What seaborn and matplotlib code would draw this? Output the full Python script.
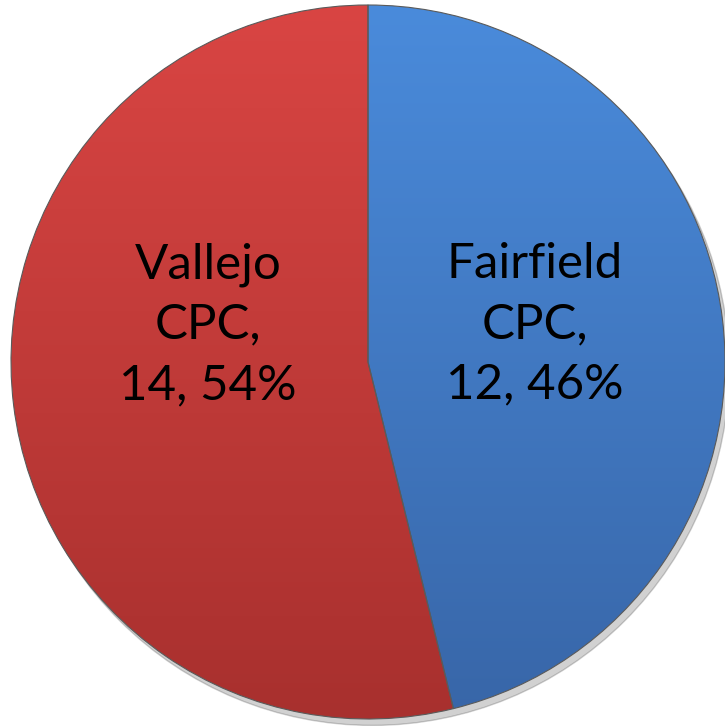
import matplotlib
matplotlib.use("Agg")
import matplotlib.pyplot as plt
import seaborn as sns
import numpy as np
from matplotlib.colors import LinearSegmentedColormap

sns.set_theme(style="white")
plt.rcParams['font.family'] = ['Lato', 'DejaVu Sans']

centers = ["Fairfield CPC", "Vallejo CPC"]
counts = [12, 14]
tops = ["#4a8bdb", "#d94543"]
bottoms = ["#3866a8", "#a8302e"]

fig = plt.figure(figsize=(7.25, 7.26), dpi=100)
ax = fig.add_axes([0, 0, 1, 1])
r_px = 357.0
cx, cy = 368.0, 362.0

# soft shadow
shadow = plt.Circle((0.012, -0.018), 1.0, color="#000000", alpha=0.18, zorder=0)
ax.add_patch(shadow)

wedges, _ = ax.pie(counts, startangle=90, counterclock=False, radius=1.0,
                   colors=tops, wedgeprops=dict(edgecolor="#5a5a5a", linewidth=0.8))

yy = np.linspace(0, 1, 256).reshape(-1, 1)
for w, t, b in zip(wedges, tops, bottoms):
    cmap = LinearSegmentedColormap.from_list("g", [t, b])
    im = ax.imshow(yy, cmap=cmap, extent=[-1, 1, -1, 1], origin="upper",
                   aspect="auto", zorder=2)
    im.set_clip_path(w)
    w.set_zorder(3)
    w.set_facecolor("none")

ax.set_xlim(-cx / r_px, (725 - cx) / r_px)
ax.set_ylim(-(726 - cy) / r_px, cy / r_px)
ax.set_aspect("equal")
ax.axis("off")

total = sum(counts)
pos = {"Fairfield CPC": (0.468, 0.105), "Vallejo CPC": (-0.448, 0.105)}
for name, c in zip(centers, counts):
    city, kind = name.split(" ")
    label = f"{city}\n{kind},\n{c}, {round(100 * c / total)}%"
    x, y = pos[name]
    ax.text(x, y, label, ha="center", va="center", fontsize=35.5,
            color="black", linespacing=1.45, zorder=5)

fig.savefig("out.png", dpi=100)
